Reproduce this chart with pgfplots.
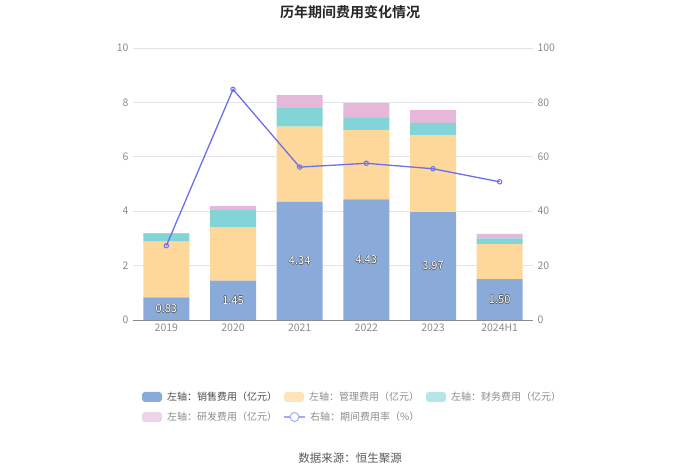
\documentclass[border=0pt]{standalone}
\usepackage{pgfplots}
\usepackage{pgfplotstable}
\pgfplotsset{compat=1.18}
\usepackage{fontspec}
\setmainfont{Noto Sans CJK SC}
\newfontfamily\cjkbold{Noto Sans CJK SC Bold}
\definecolor{cblue}{RGB}{138,171,218}
\definecolor{cyel}{RGB}{253,216,154}
\definecolor{ccyan}{RGB}{130,212,214}
\definecolor{cpink}{RGB}{229,184,218}
\definecolor{cline}{RGB}{106,112,236}
\definecolor{ctick}{RGB}{140,140,140}
\definecolor{cgrid}{RGB}{226,228,234}
\definecolor{olc}{RGB}{90,90,90}
\newcommand{\olt}[1]{\leavevmode\rlap{\color{olc}\hspace{0.6bp}#1}\rlap{\color{olc}\hspace{-0.6bp}#1}\rlap{\color{olc}\raisebox{0.6bp}{#1}}\rlap{\color{olc}\raisebox{-0.6bp}{#1}}{\color{white}#1}}
\pgfplotstableread{
x sales admin fin rd rate lab
0 0.83 2.05 0.29 0.02 27.3 0.83
1 1.45 1.96 0.63 0.15 84.8 1.45
2 4.34 2.77 0.68 0.49 56.2 4.34
3 4.43 2.56 0.44 0.54 57.6 4.43
4 3.97 2.83 0.45 0.47 55.6 3.97
5 1.50 1.29 0.21 0.17 50.8 1.50
}\data
\begin{document}
\begin{tikzpicture}[x=1bp,y=1bp]
\useasboundingbox (0,0) rectangle (700,473);
\begin{axis}[at={(133bp,153bp)}, anchor=south west, scale only axis,
  width=400bp, height=272bp, ybar stacked, bar width=46bp,
  xmin=-0.5, xmax=5.5, ymin=0, ymax=10, ytick={0,2,...,10},
  xtick={0,...,5}, xticklabels={2019,2020,2021,2022,2023,2024H1},
  axis x line*=bottom, axis y line*=left,
  y axis line style={draw=none}, x axis line style={draw=ctick,line width=0.8bp},
  major tick style={draw=none},
  ymajorgrids, grid style={draw=cgrid, line width=0.6bp},
  tick label style={font=\fontsize{10.5bp}{12bp}\selectfont, text=ctick},
  /pgf/number format/assume math mode=true,
  xticklabel style={yshift=-0.5bp},
  yticklabel style={xshift=-1bp},
]
\addplot[fill=cblue, draw=none] table[x=x,y=sales]{\data};
\addplot[fill=cyel, draw=none] table[x=x,y=admin]{\data};
\addplot[fill=ccyan, draw=none] table[x=x,y=fin]{\data};
\addplot[fill=cpink, draw=none] table[x=x,y=rd]{\data};
\end{axis}
\begin{axis}[at={(133bp,153bp)}, anchor=south west, scale only axis,
  width=400bp, height=272bp,
  xmin=-0.5, xmax=5.5, ymin=0, ymax=100, ytick={0,20,...,100},
  axis y line*=right, axis x line=none,
  y axis line style={draw=none}, major tick style={draw=none},
  tick label style={font=\fontsize{10.5bp}{12bp}\selectfont, text=ctick},
  /pgf/number format/assume math mode=true,
  yticklabel style={xshift=1bp},
]
\addplot[cline, line width=1.3bp, mark=o, mark size=2.2bp, mark options={fill=white, line width=1bp}] table[x=x,y=rate]{\data};
\addplot[draw=none, mark=none, nodes near coords={\olt{\pgfplotspointmeta}}, point meta=explicit symbolic,
  every node near coord/.style={font=\fontsize{11bp}{12bp}\selectfont, anchor=center}]
  table[x=x, y expr=\thisrow{sales}*5, meta=lab]{\data};
\end{axis}
% title
\node[font=\cjkbold\fontsize{14bp}{16bp}\selectfont, text=black!85] at (350,461) {历年期间费用变化情况};
% legend row 1
\tikzset{lt/.style={font=\fontsize{10bp}{11bp}\selectfont, anchor=west, inner sep=0pt}}
\fill[cblue, rounded corners=3bp] (142,71) rectangle (162,81);
\node[lt, text=black!70] at (167,76) {左轴：销售费用（亿元）};
\fill[cyel!70, rounded corners=3bp] (284,71) rectangle (304,81);
\node[lt, text=ctick] at (309,76) {左轴：管理费用（亿元）};
\fill[ccyan!60, rounded corners=3bp] (426,71) rectangle (446,81);
\node[lt, text=ctick] at (451,76) {左轴：财务费用（亿元）};
% legend row 2
\fill[cpink!60, rounded corners=3bp] (142,51) rectangle (162,61);
\node[lt, text=ctick] at (167,56) {左轴：研发费用（亿元）};
\draw[cline!60, line width=1.2bp] (284,56) -- (305,56);
\draw[cline!60, line width=1bp, fill=white] (294.5,56) circle (4.5);
\node[lt, text=ctick] at (310,56) {右轴：期间费用率（\%）};
% source
\node[font=\fontsize{11.5bp}{13bp}\selectfont, text=black!65] at (350,15) {数据来源：恒生聚源};
\end{tikzpicture}
\end{document}
